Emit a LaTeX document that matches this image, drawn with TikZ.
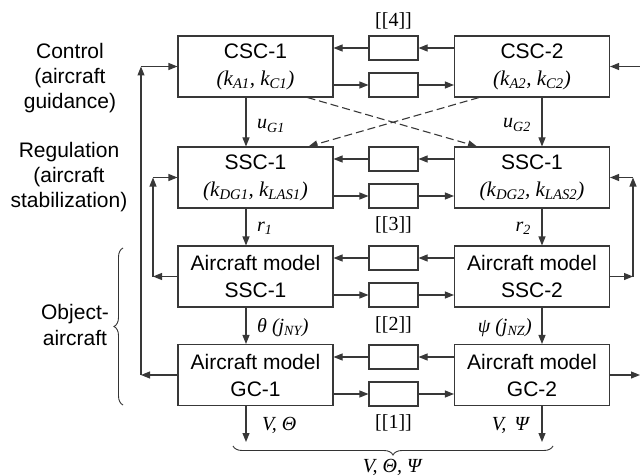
\documentclass[tikz,border=0pt]{standalone}
\usepackage{fontspec}
\setmainfont{Liberation Sans}
\newfontfamily\tms{Liberation Serif}
\usetikzlibrary{arrows.meta,decorations.pathreplacing,calc}
\newcommand\sbs[1]{\textsubscript{#1}}
\begin{document}
\begin{tikzpicture}[x=1pt,y=-1pt,
  ln/.style={draw=black!78, line width=1.1pt},
  arr/.style={ln, -{Triangle[length=9pt,width=7pt]}},
  big/.style={ln, minimum width=155pt, minimum height=61pt, inner sep=0pt, align=center, font=\fontsize{21}{27}\selectfont},
  small/.style={ln, minimum width=49pt, minimum height=24pt, inner sep=0pt},
  mlab/.style={font=\tms\itshape\fontsize{20}{24}\selectfont, inner sep=0pt},
  num/.style={font=\tms\fontsize{20}{24}\selectfont, inner sep=0pt},
  side/.style={align=center, font=\fontsize{21}{25}\selectfont, inner sep=0pt},
  brc/.style={draw=black!80, line width=0.9pt, decorate},
]
\useasboundingbox (0,0) rectangle (640,476);

% side labels
\node[side] (t1) at (70,78) {Control\\(aircraft\\guidance)};
\node[side] (t2) at (69,177) {Regulation\\(aircraft\\stabilization)};
\node[side, font=\fontsize{21}{26}\selectfont] (t3) at (75,325) {Object-\\aircraft};

% main boxes
\node[big] (C1) at (255.5,66.5) {CSC-1\\{\tms\itshape (k\sbs{A1}, k\sbs{C1})}};
\node[big] (C2) at (532,66.5) {CSC-2\\{\tms\itshape (k\sbs{A2}, k\sbs{C2})}};
\node[big] (S1) at (255.5,177.5) {SSC-1\\{\tms\itshape (k\sbs{DG1}, k\sbs{LAS1})}};
\node[big] (S2) at (532,177.5) {SSC-1\\{\tms\itshape (k\sbs{DG2}, k\sbs{LAS2})}};
\node[big] (A1) at (255.5,276.5) {Aircraft model\\SSC-1};
\node[big] (A2) at (532,276.5) {Aircraft model\\SSC-2};
\node[big] (G1) at (255.5,375) {Aircraft model\\GC-1};
\node[big] (G2) at (532,375) {Aircraft model\\GC-2};

% small boxes
\node[small] (c4u) at (393.5,48) {};
\node[small] (c4l) at (393.5,85) {};
\node[small] (s3u) at (393.5,159) {};
\node[small] (s3l) at (393.5,196) {};
\node[small] (a2u) at (393.5,258) {};
\node[small] (a2l) at (393.5,295) {};
\node[small] (g1u) at (393.5,357) {};
\node[small] (g1l) at (393.5,394) {};

\foreach \L/\R/\u/\l in {C1/C2/c4u/c4l, S1/S2/s3u/s3l, A1/A2/a2u/a2l, G1/G2/g1u/g1l}{
  \draw[arr] (\R.west |- \u) -- (\u.east);
  \draw[arr] (\u.west) -- (\L.east |- \u);
  \draw[arr] (\L.east |- \l) -- (\l.west);
  \draw[arr] (\l.east) -- (\R.west |- \l);
}

% link labels
\node[num] (n4) at (393.5,21) {[[4]]};
\node[num] (n3) at (393.5,225) {[[3]]};
\node[num] (n2) at (393.5,325) {[[2]]};
\node[num] (n1) at (393.5,423) {[[1]]};

% vertical arrows
\coordinate (xl) at (246,0);
\coordinate (xr) at (542,0);
\draw[arr] (C1.south -| xl) -- (S1.north -| xl);
\draw[arr] (S1.south -| xl) -- (A1.north -| xl);
\draw[arr] (A1.south -| xl) -- (G1.north -| xl);
\draw[arr] (C2.south -| xr) -- (S2.north -| xr);
\draw[arr] (S2.south -| xr) -- (A2.north -| xr);
\draw[arr] (A2.south -| xr) -- (G2.north -| xr);
\coordinate (b1) at (246,442);
\coordinate (b2) at (542,442);
\draw[arr] (G1.south -| b1) -- (b1);
\draw[arr] (G2.south -| b2) -- (b2);

% signal labels
\node[mlab, anchor=west] (uG1) at (257,126) {u\sbs{G1}};
\node[mlab, anchor=east] (uG2) at (531,125) {u\sbs{G2}};
\node[mlab, anchor=west] (r1) at (257,228) {r\sbs{1}};
\node[mlab, anchor=east] (r2) at (531,228) {r\sbs{2}};
\node[mlab, anchor=west] (th) at (257,328) {θ (j\sbs{NY})};
\node[mlab, anchor=east] (ps) at (532,328) {ψ (j\sbs{NZ})};
\node[mlab, anchor=west] (vt) at (262,425) {V, Θ};
\node[mlab, anchor=east] (vp) at (529,425) {V,\, Ψ};

% dashed cross links
\draw[arr, dash pattern=on 8pt off 4pt] ($(C1.south east)+(-26,0)$) -- ($(S2.north west)+(23,0)$);
\draw[arr, dash pattern=on 8pt off 4pt] ($(C2.south west)+(25,0)$) -- ($(S1.north east)+(-25,0)$);

% left feedback
\coordinate (L1) at (141,0);
\coordinate (L2) at (153,0);
\draw[arr] (G1.west) -- (G1.west -| L1);
\draw[arr] (G1.west -| L1) -- (L1 |- C1.west);
\draw[arr] (L1 |- C1.west) -- (C1.west);
\draw[arr] (A1.west) -- (A1.west -| L2);
\draw[arr] (A1.west -| L2) -- (L2 |- S1.west);
\draw[arr] (L2 |- S1.west) -- (S1.west);

% right feedback
\coordinate (R1) at (640,0);
\coordinate (R2) at (633,0);
\draw[arr] (R1 |- C2.east) -- (C2.east);
\draw[arr] (A2.east) -- (A2.east -| R2);
\draw[arr] (A2.east -| R2) -- (R2 |- S2.east);
\draw[arr] (R2 |- S2.east) -- (S2.east);
\draw[arr] (G2.east) -- (G2.east -| R1);

% braces
\draw[brc, decoration={brace, amplitude=9pt, mirror}] (233,446) -- (553,446);
\node[mlab] (out) at (392,467) {V, Θ, Ψ};
\draw[brc, decoration={brace, amplitude=9pt}] (123,405) -- (123,248);
\end{tikzpicture}
\end{document}
